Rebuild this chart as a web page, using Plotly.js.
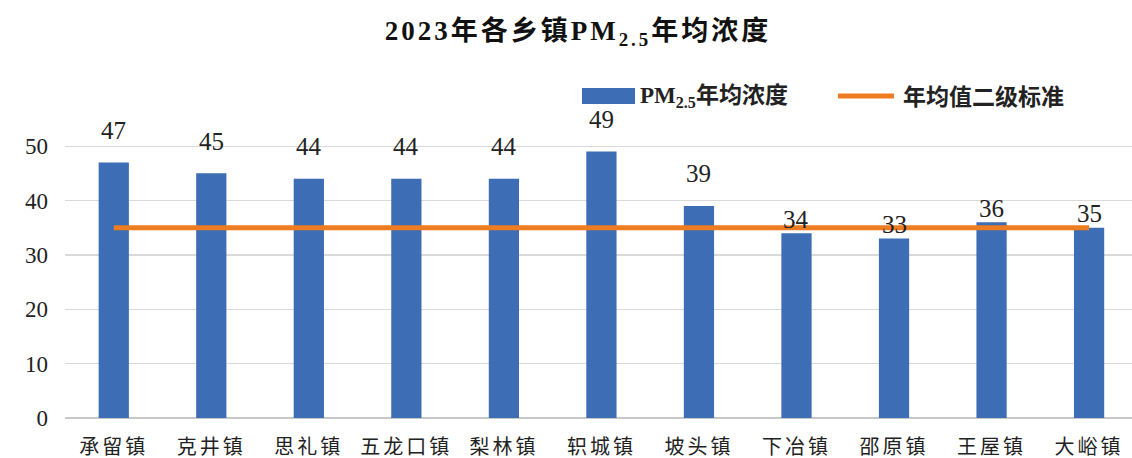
<!DOCTYPE html>
<html>
<head>
<meta charset="utf-8">
<script src="https://cdn.plot.ly/plotly-3.0.1.min.js"></script>
<style>
html,body{margin:0;padding:0;background:#fff;}
#chart{width:1132px;height:458px;}
.xtick text{letter-spacing:3px;}
.gtitle{letter-spacing:3px;}
</style>
</head>
<body>
<div id="chart"></div>
<script>
const towns = ["承留镇","克井镇","思礼镇","五龙口镇","梨林镇","轵城镇","坡头镇","下冶镇","邵原镇","王屋镇","大峪镇"];
const pm25 = [47, 45, 44, 44, 44, 49, 39, 34, 33, 36, 35];
const standard = 35;
const yTicks = [0, 10, 20, 30, 40, 50];
const seriesName = "PM<sub>2.5</sub>年均浓度";
const standardName = "年均值二级标准";
const titleText = "<b>2023年各乡镇PM<sub>2.5</sub>年均浓度</b>";

const FONT = "Liberation Serif, Noto Sans CJK SC, serif";
const NUMFONT = "Liberation Serif";
const BAR_COLOR = "#3C6DB5";
const LINE_COLOR = "#EE7D22";

// plot-area geometry helpers (pixels -> paper coordinates), used for the manual legend
const W = 1132, H = 458, ML = 65, MR = 0, MT = 119, MB = 40;
const px = v => (v - ML) / (W - ML - MR);
const py = v => (H - MB - v) / (H - MT - MB);

const bars = {
  type: "bar",
  name: seriesName,
  x: towns,
  y: pm25,
  width: 0.31,
  marker: {color: BAR_COLOR},
  hoverinfo: "x+y",
  showlegend: false
};
const stdLine = {
  type: "scatter",
  mode: "lines",
  name: standardName,
  x: towns,
  y: towns.map(() => standard),
  line: {color: LINE_COLOR, width: 5},
  showlegend: false
};

const annotations = towns.map((t, i) => ({
  x: t, y: pm25[i], xref: "x", yref: "y",
  text: String(pm25[i]),
  showarrow: false,
  yshift: (pm25[i] - standard > 2) ? 32 : 14,
  font: {family: NUMFONT, size: 25, color: "#222"}
}));

// legend texts
annotations.push({
  xref: "paper", yref: "paper",
  x: px(638), y: py(97), xanchor: "left", yanchor: "middle",
  text: "<b>" + seriesName + "</b>", showarrow: false,
  font: {family: FONT, size: 23, color: "#222"}
});
annotations.push({
  xref: "paper", yref: "paper",
  x: px(901), y: py(97), xanchor: "left", yanchor: "middle",
  text: "<b>" + standardName + "</b>", showarrow: false,
  font: {family: FONT, size: 23, color: "#222"}
});

const shapes = [
  {type: "rect", xref: "paper", yref: "paper",
   x0: px(582), x1: px(635), y0: py(104), y1: py(88),
   fillcolor: BAR_COLOR, line: {width: 0}},
  {type: "line", xref: "paper", yref: "paper",
   x0: px(838), x1: px(894), y0: py(96), y1: py(96),
   line: {color: LINE_COLOR, width: 5}}
];

const layout = {
  width: W, height: H,
  margin: {l: ML, r: MR, t: MT, b: MB},
  paper_bgcolor: "#fff",
  plot_bgcolor: "#fff",
  font: {family: FONT, color: "#222"},
  title: {
    text: titleText,
    x: 578/1132, xanchor: "center", xref: "container",
    y: 1 - 31/458, yanchor: "middle", yref: "container",
    font: {family: FONT, size: 27, color: "#111"}
  },
  showlegend: false,
  xaxis: {
    type: "category",
    range: [-0.5, 10.44],
    showgrid: false,
    showline: false,
    ticks: "",
    ticklabelstandoff: 15,
    tickfont: {family: FONT, size: 20, color: "#222"},
    fixedrange: true
  },
  yaxis: {
    range: [0, 55],
    tickvals: yTicks,
    ticktext: yTicks.map(String),
    showgrid: true,
    gridcolor: "#d9d9d9",
    gridwidth: 1.2,
    zeroline: true,
    zerolinecolor: "#c8c8c8",
    zerolinewidth: 1.5,
    showline: false,
    ticks: "",
    ticklabelstandoff: 16,
    tickfont: {family: NUMFONT, size: 23, color: "#222"},
    fixedrange: true
  },
  annotations: annotations,
  shapes: shapes
};

Plotly.newPlot("chart", [bars, stdLine], layout, {displayModeBar: false, staticPlot: true});
</script>
</body>
</html>
